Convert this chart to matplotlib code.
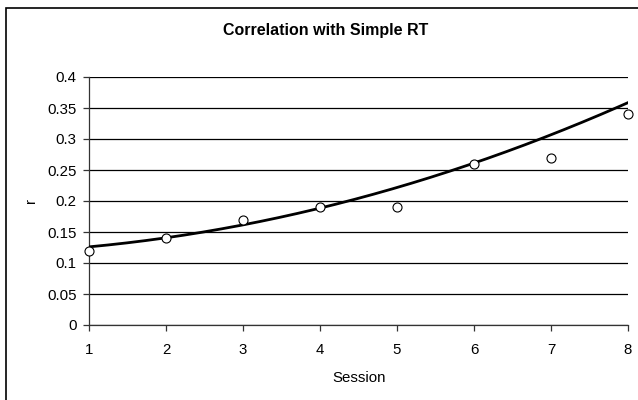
import numpy as np
import matplotlib.pyplot as plt
from matplotlib.patches import Rectangle

sessions = [1, 2, 3, 4, 5, 6, 7, 8]
r_values = [0.12, 0.14, 0.17, 0.19, 0.19, 0.26, 0.27, 0.34]
# polynomial trend line coefficients (c0 + c1*x + c2*x^2)
trend_coef = [0.1176, 0.00533, 0.0031]

plt.rcParams['font.family'] = ['Liberation Sans', 'DejaVu Sans']

fig = plt.figure(figsize=(6.38, 4.0), dpi=100)
# outer chart border (runs off the right/bottom edge like the original)
fig.patches.append(Rectangle((5.5 / 638, -0.05), 1.0, 1 - 7.5 / 400 + 0.05,
                             transform=fig.transFigure, fill=False,
                             edgecolor='black', linewidth=1.2))

ax = fig.add_axes([89 / 638, 1 - 325 / 400, (628 - 89) / 638, (325 - 77) / 400])

xs = np.linspace(sessions[0], sessions[-1], 200)
ax.plot(xs, np.polynomial.polynomial.polyval(xs, trend_coef), color='black',
        linewidth=2, zorder=3)
ax.plot(sessions, r_values, 'o', markersize=6.5, markerfacecolor='white',
        markeredgecolor='black', markeredgewidth=0.8, zorder=4, clip_on=False)

ax.set_xlim(1, 8)
ax.set_ylim(0, 0.4)
ax.set_xticks(sessions)
ax.set_yticks(np.arange(0, 0.401, 0.05))
ax.set_yticklabels(['0', '0.05', '0.1', '0.15', '0.2', '0.25', '0.3', '0.35', '0.4'])
ax.yaxis.grid(True, color='black', linewidth=0.9)
ax.set_axisbelow(True)
for s in ['top', 'right']:
    ax.spines[s].set_visible(False)
for s in ['left', 'bottom']:
    ax.spines[s].set_color('#333333')
    ax.spines[s].set_linewidth(0.9)
ax.tick_params(direction='out', length=4, width=0.9, color='#333333',
               labelsize=10.8)
ax.tick_params(axis='y', pad=5)
ax.tick_params(axis='x', pad=9)

ax.set_xlabel('Session', fontsize=10.8)
ax.xaxis.set_label_coords(359 / 638, 1 - 378 / 400, transform=fig.transFigure)
ax.xaxis.label.set_va('center')
ax.set_ylabel('r', fontsize=10.8)
ax.yaxis.set_label_coords(31 / 638, 1 - 201 / 400, transform=fig.transFigure)
ax.yaxis.label.set_va('center')

fig.text(326 / 638, 1 - 30 / 400, 'Correlation with Simple RT', ha='center',
         va='center', fontsize=11.5, fontweight='bold')

fig.savefig('out.png', dpi=100, facecolor='white')
